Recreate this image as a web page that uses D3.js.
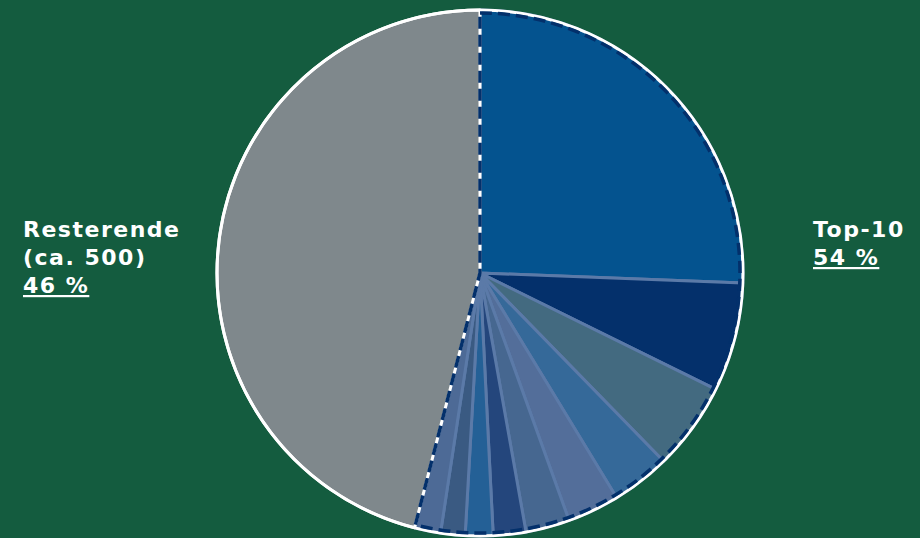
<!DOCTYPE html>
<html>
<head>
<meta charset="utf-8">
<script src="https://cdn.jsdelivr.net/npm/d3@7"></script>
<style>
  body { margin: 0; background: #145c3f; }
  svg { display: block; }
</style>
</head>
<body>
<div id="chart"></div>
<script>
// slice data: top-10 shares then the rest (percent)
var topNames  = ["1", "2", "3", "4", "5", "6", "7", "8", "9", "10"];
var topValues = [25.6, 6.7, 5.4, 3.6, 3.2, 2.7, 2.0, 1.7, 1.5, 1.6];
var restValue = 46;
var topColors = ["#04538f", "#04306b", "#436a80", "#356999", "#536e9a",
                 "#466790", "#24467c", "#246096", "#3a5a82", "#4d6a96"];
var restColor = "#7f888c";
var restLabel = ["Resterende", "(ca. 500)", "46 %"];
var topLabel  = ["Top-10", "54 %"];

var width = 920, height = 538;
var cx = 480, cy = 273, radius = 263;

var slices = topNames.map(function(n, i) {
  return { name: n, value: topValues[i], color: topColors[i] };
});
slices.push({ name: "rest", value: restValue, color: restColor });

var svg = d3.select("#chart").append("svg")
    .attr("width", width)
    .attr("height", height);

svg.append("rect")
    .attr("width", width)
    .attr("height", height)
    .attr("fill", "#145c3f");

var g = svg.append("g")
    .attr("transform", "translate(" + cx + "," + cy + ")");

var pie = d3.pie().sort(null).value(function(d) { return d.value; });
var arcs = pie(slices);
var arc = d3.arc().innerRadius(0).outerRadius(radius);

g.selectAll("path.slice")
  .data(arcs)
  .enter()
    .append("path")
    .attr("class", "slice")
    .attr("d", arc)
    .attr("fill", function(d) { return d.data.color; })
    .attr("stroke", function(d) { return d.data.name === "rest" ? "#ffffff" : "#5b7aa8"; })
    .attr("stroke-width", 3)
    .attr("stroke-linejoin", "round");

// white outer ring
g.append("circle")
    .attr("r", radius)
    .attr("fill", "none")
    .attr("stroke", "#ffffff")
    .attr("stroke-width", 3);

// dashed outline round the top-10 group
var topEnd = arcs[topValues.length - 1].endAngle;
var groupArc = d3.arc().innerRadius(0).outerRadius(radius - 3);

g.append("path")
    .attr("d", groupArc({ startAngle: 0, endAngle: topEnd }))
    .attr("fill", "none")
    .attr("stroke", "#03306b")
    .attr("stroke-width", 3.5)
    .attr("stroke-dasharray", "12,6");

// labels
function addLabel(x, y, lines) {
  var t = svg.append("text")
      .attr("x", x)
      .attr("y", y)
      .attr("fill", "#ffffff")
      .attr("font-family", "DejaVu Sans, Verdana, sans-serif")
      .attr("font-weight", "bold")
      .attr("font-size", 22)
      .attr("letter-spacing", 1.5);
  lines.forEach(function(s, i) {
    var ts = t.append("tspan")
        .attr("x", x)
        .attr("dy", i === 0 ? 0 : 28)
        .text(s);
    if (i === lines.length - 1) ts.style("text-decoration", "underline");
  });
}

addLabel(23, 237, restLabel);
addLabel(813, 237, topLabel);
</script>
</body>
</html>
